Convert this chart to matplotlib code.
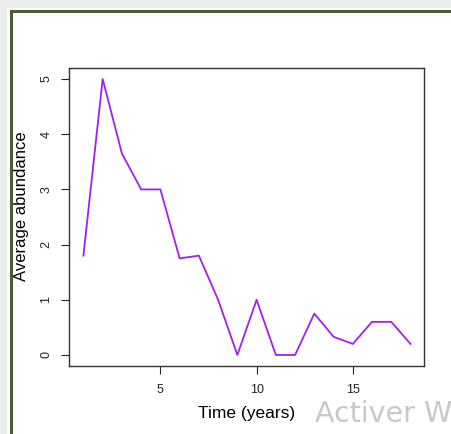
import numpy as np
import matplotlib
matplotlib.use("Agg")
import matplotlib.pyplot as plt
from matplotlib.lines import Line2D
from matplotlib.patches import Rectangle

# data
years = [1, 2, 3, 4, 5, 6, 7, 8, 9, 10, 11, 12, 13, 14, 15, 16, 17, 18]
abundance = [1.8, 5.0, 3.65, 3.0, 3.0, 1.75, 1.8, 1.0, 0.0, 1.0,
             0.0, 0.0, 0.75, 0.33, 0.2, 0.6, 0.6, 0.2]
x_ticks = [5, 10, 15]
y_ticks = [0, 1, 2, 3, 4, 5]

plt.rcParams["font.family"] = ["Liberation Sans", "DejaVu Sans"]

W, H = 451, 434
fig = plt.figure(figsize=(W / 100, H / 100), dpi=100)
fig.patch.set_facecolor("white")

# screenshot window frame: grey strips and dark green border
fig.patches.append(Rectangle((0, 1 - 8 / H), 1, 8 / H, transform=fig.transFigure,
                             facecolor="#ececec", edgecolor="none", zorder=0))
fig.patches.append(Rectangle((0, 0), 7 / W, 1, transform=fig.transFigure,
                             facecolor="#ececec", edgecolor="none", zorder=0))
fig.lines.append(Line2D([11 / W, 1], [1 - 10.5 / H, 1 - 10.5 / H], transform=fig.transFigure,
                        color="#4b5e32", linewidth=2.2))
fig.lines.append(Line2D([11 / W, 11 / W], [0, 1 - 10.5 / H], transform=fig.transFigure,
                        color="#4b5e32", linewidth=2.2))

ax = fig.add_axes([69 / W, (H - 366) / H, (424 - 69) / W, (366 - 68) / H])
ax.plot(years, abundance, color="#a020f0", linewidth=1.3)

ax.set_xlim(0.25, 18.7)
ax.set_ylim(-0.2, 5.2)
ax.set_xticks(x_ticks)
ax.set_yticks(y_ticks)
ax.tick_params(axis="both", direction="out", length=6, width=0.8, labelsize=9, colors="#222222")
ax.tick_params(axis="x", pad=7)
ax.tick_params(axis="y", pad=6)
for lab in ax.get_yticklabels():
    lab.set_rotation(90)
    lab.set_va("center")
for s in ax.spines.values():
    s.set_color("#333333")
    s.set_linewidth(1.0)

ax.set_xlabel("Time (years)", fontsize=12.5, labelpad=7)
ax.set_ylabel("Average abundance", fontsize=12)
ax.yaxis.set_label_coords(-0.113, 0.535)

# windows activation watermark
fig.text(315 / W, (H - 422) / H, "Activer W", fontsize=20.5, color="#c8c8c8",
         family=["DejaVu Sans"], ha="left", va="baseline")

fig.savefig("out.png", dpi=100)
